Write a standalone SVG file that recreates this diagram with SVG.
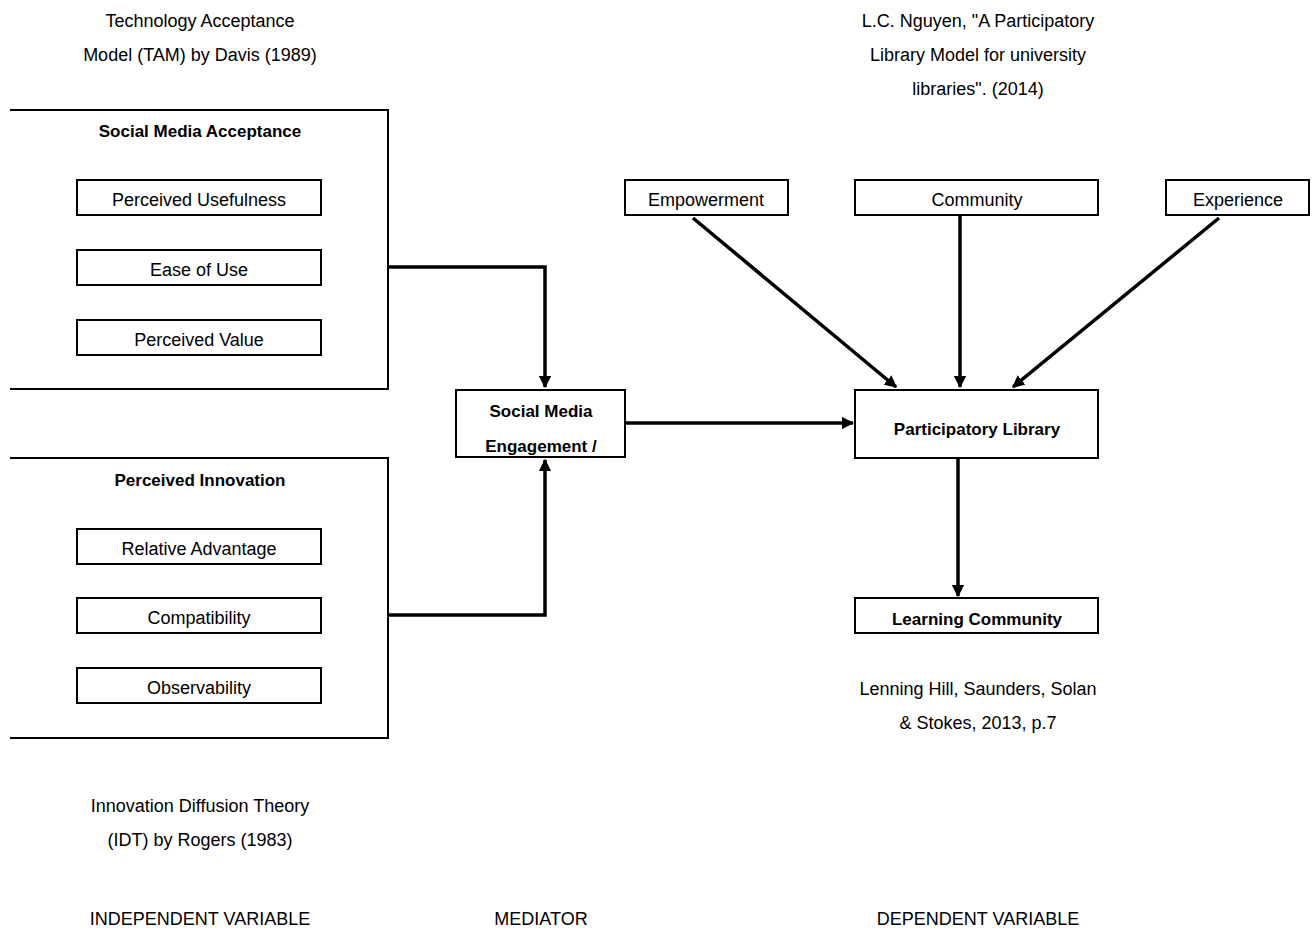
<svg xmlns="http://www.w3.org/2000/svg" width="1314" height="931" viewBox="0 0 1314 931">
<style>
text{font-family:"Liberation Sans",Arial,sans-serif;font-size:18px;fill:#000;text-anchor:middle}
.b{font-weight:bold;font-size:17px}
.box{fill:#fff;stroke:#000;stroke-width:2}
.frame{fill:none;stroke:#000;stroke-width:2}
.c{fill:none;stroke:#000;stroke-width:3.5}
</style>
<defs>
<marker id="ah" viewBox="0 0 10 10" refX="9" refY="5" markerWidth="3.5" markerHeight="3.5" orient="auto" markerUnits="strokeWidth">
<path d="M0,0 L10,5 L0,10 z" fill="#000"/>
</marker>
</defs>
<rect width="1314" height="931" fill="#fff"/>

<g id="labels">
<text x="200" y="27">Technology Acceptance</text>
<text x="200" y="61">Model (TAM) by Davis (1989)</text>
<text x="978" y="27">L.C. Nguyen, "A Participatory</text>
<text x="978" y="61">Library Model for university</text>
<text x="978" y="95">libraries". (2014)</text>
<text x="978" y="695">Lenning Hill, Saunders, Solan</text>
<text x="978" y="729">&amp; Stokes, 2013, p.7</text>
<text x="200" y="812">Innovation Diffusion Theory</text>
<text x="200" y="846">(IDT) by Rogers (1983)</text>
<text x="200" y="925">INDEPENDENT VARIABLE</text>
<text x="541" y="925">MEDIATOR</text>
<text x="978" y="925">DEPENDENT VARIABLE</text>
</g>

<g id="social-media-acceptance">
<path class="frame" d="M10,110 H388 V389 H10"/>
<text class="b" x="200" y="137">Social Media Acceptance</text>
</g>
<g id="perceived-usefulness"><rect class="box" x="77" y="180" width="244" height="35"/><text x="199" y="206">Perceived Usefulness</text></g>
<g id="ease-of-use"><rect class="box" x="77" y="250" width="244" height="35"/><text x="199" y="276">Ease of Use</text></g>
<g id="perceived-value"><rect class="box" x="77" y="320" width="244" height="35"/><text x="199" y="346">Perceived Value</text></g>

<g id="perceived-innovation">
<path class="frame" d="M10,458 H388 V738 H10"/>
<text class="b" x="200" y="486">Perceived Innovation</text>
</g>
<g id="relative-advantage"><rect class="box" x="77" y="529" width="244" height="35"/><text x="199" y="555">Relative Advantage</text></g>
<g id="compatibility"><rect class="box" x="77" y="598" width="244" height="35"/><text x="199" y="624">Compatibility</text></g>
<g id="observability"><rect class="box" x="77" y="668" width="244" height="35"/><text x="199" y="694">Observability</text></g>

<g id="social-media-engagement"><rect class="box" x="456" y="390" width="169" height="67"/><text class="b" x="541" y="417">Social Media</text><text class="b" x="541" y="452">Engagement /</text></g>

<g id="participatory-library"><rect class="box" x="855" y="390" width="243" height="68"/><text class="b" x="977" y="435">Participatory Library</text></g>
<g id="empowerment"><rect class="box" x="625" y="180" width="163" height="35"/><text x="706" y="206">Empowerment</text></g>
<g id="community"><rect class="box" x="855" y="180" width="243" height="35"/><text x="977" y="206">Community</text></g>
<g id="experience"><rect class="box" x="1166" y="180" width="143" height="35"/><text x="1238" y="206">Experience</text></g>
<g id="learning-community"><rect class="box" x="855" y="598" width="243" height="35"/><text class="b" x="977" y="625">Learning Community</text></g>

<g id="connectors">
<path class="c" d="M388,267 H545 V387" marker-end="url(#ah)"/>
<path class="c" d="M388,615 H545 V460" marker-end="url(#ah)"/>
<path class="c" d="M626,423 H853" marker-end="url(#ah)"/>
<path class="c" d="M693,218 L896,387" marker-end="url(#ah)"/>
<path class="c" d="M960,215 V387" marker-end="url(#ah)"/>
<path class="c" d="M1219,218 L1013,387" marker-end="url(#ah)"/>
<path class="c" d="M958,458 V596" marker-end="url(#ah)"/>
</g>
</svg>
